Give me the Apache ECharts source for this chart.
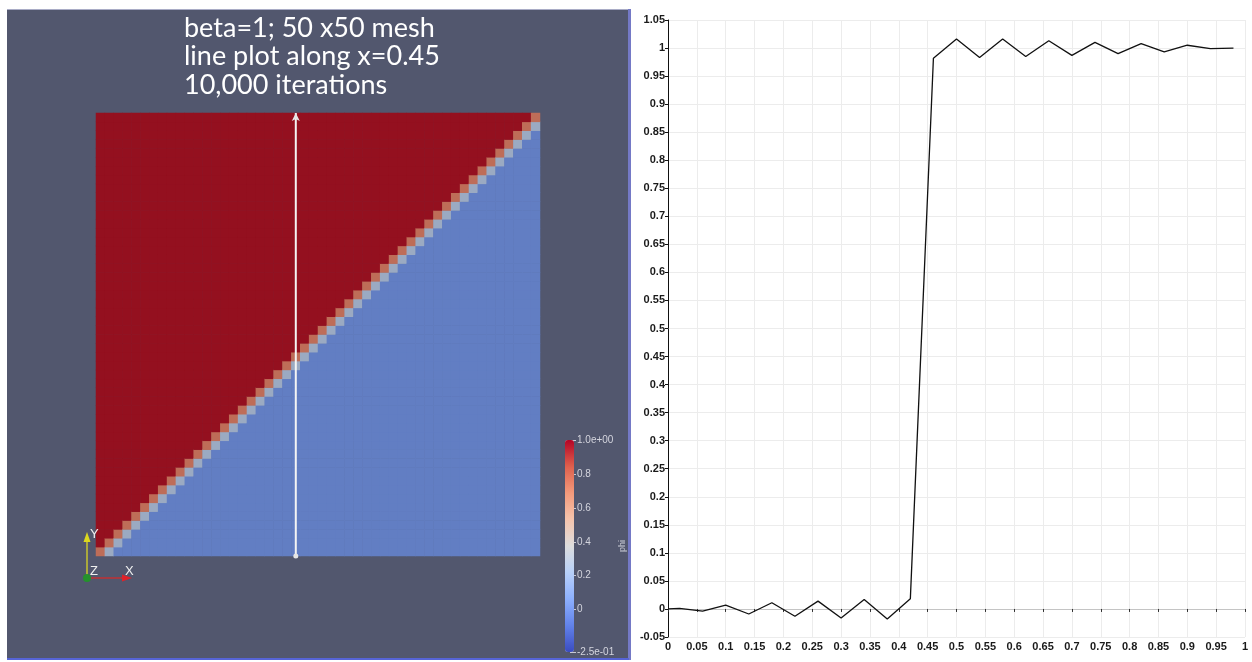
<!DOCTYPE html>
<html><head><meta charset="utf-8">
<script src="https://cdn.jsdelivr.net/npm/echarts@6/dist/echarts.min.js"></script>
<style>html,body{margin:0;padding:0;background:#fff}#c{width:1252px;height:662px}</style>
</head><body><div id="c"></div>
<script>
// ---------- data ----------
const titleLines = ['beta=1; 50 x50 mesh', 'line plot along x=0.45', '10,000 iterations'];
const meshSize = 50;                 // 50 x 50 cells
const phiAbove = 1.0;                // value above the diagonal interface
const phiBelow = 0.0;                // value below the diagonal interface
const interfaceOffsets = [-1, 0];    // cell offset (row - col) across the interface
const interfaceValues = [0.26, 0.74];
const probeX = 0.45;
const phiMin = -0.25, phiMax = 1.0;
const colorbarTicks = [-0.25, 0, 0.2, 0.4, 0.6, 0.8, 1];
const colorbarTickLabels = ['-2.5e-01', '0', '0.2', '0.4', '0.6', '0.8', '1.0e+00'];
const axisLabelsTriad = ['X', 'Y', 'Z'];
// line plot along x = 0.45 (position along y, phi)
const lineX = [0, 0.02, 0.06, 0.10, 0.14, 0.18, 0.22, 0.26, 0.30, 0.34, 0.38, 0.42, 0.46,
  0.50, 0.54, 0.58, 0.62, 0.66, 0.70, 0.74, 0.78, 0.82, 0.86, 0.90, 0.94, 0.98];
const lineY = [0.000, 0.001, -0.004, 0.007, -0.009, 0.011, -0.013, 0.014, -0.016, 0.017, -0.018, 0.018, 0.982,
  1.016, 0.983, 1.016, 0.985, 1.013, 0.987, 1.010, 0.990, 1.008, 0.993, 1.005, 0.999, 1.000];

// ParaView "Cool to Warm" colour map
const coolWarm = ['#3b4cc0', '#6282ea', '#8db0fe', '#b8d0f9', '#dddddd', '#f5c4ad', '#f49a7b', '#de604d', '#b40426'];
// same map as it appears shaded in the render
const coolWarmShaded = ['#303e9a', '#4e68b8', '#6f8ccb', '#93a7c8', '#b3b3b3', '#c6a08e', '#c47c64', '#b24f40', '#94101f'];

// ---------- build tables ----------
const cats = [];
for (let i = 0; i < meshSize; i++) cats.push(String(i));
const heat = [];
for (let i = 0; i < meshSize; i++) {
  for (let j = 0; j < meshSize; j++) {
    const d = j - i;
    const k = interfaceOffsets.indexOf(d);
    const v = k >= 0 ? interfaceValues[k] : (d > 0 ? phiAbove : phiBelow);
    heat.push([i, j, v]);
  }
}
const lineData = lineX.map((x, i) => [x, lineY[i]]);

const chart = echarts.init(document.getElementById('c'), null, {renderer: 'canvas'});
const labelFont = {fontFamily: 'Liberation Sans', fontSize: 11, fontWeight: 'bold', color: '#1a1a1a'};

chart.setOption({
  animation: false,
  backgroundColor: '#ffffff',
  title: {
    text: titleLines.join('\n'), left: 179, top: 9,
    textStyle: {color: '#ffffff', fontSize: 27, fontWeight: 'normal', fontFamily: 'Lato', lineHeight: 28.5}
  },
  grid: [
    {left: 96, top: 113, width: 444, height: 443},
    {left: 96, top: 113, width: 444, height: 443},
    {left: 668, top: 20, right: 7, bottom: 25},
    {left: 570, top: 440, width: 4, height: 212}
  ],
  xAxis: [
    {gridIndex: 0, type: 'category', data: cats, show: false},
    {gridIndex: 1, type: 'value', min: 0, max: 1, show: false},
    {gridIndex: 2, type: 'value', min: 0, max: 1, interval: 0.05,
      axisLine: {show: true, lineStyle: {color: '#c4c4c4', width: 1}},
      axisTick: {show: true, length: 3, lineStyle: {color: '#333'}},
      axisLabel: Object.assign({margin: 4}, labelFont),
      splitLine: {show: true, lineStyle: {color: '#ececec', width: 1}}},
    {gridIndex: 3, type: 'value', show: false}
  ],
  yAxis: [
    {gridIndex: 0, type: 'category', data: cats, show: false},
    {gridIndex: 1, type: 'value', min: 0, max: 1, show: false},
    {gridIndex: 2, type: 'value', min: -0.05, max: 1.05, interval: 0.05,
      axisLine: {show: true, lineStyle: {color: '#111', width: 1}},
      axisTick: {show: true, length: 3, lineStyle: {color: '#111'}},
      axisLabel: Object.assign({margin: 3}, labelFont),
      splitLine: {show: true, lineStyle: {color: '#ececec', width: 1}}},
    {gridIndex: 3, type: 'value', min: phiMin, max: phiMax, position: 'right',
      axisLine: {show: false},
      axisTick: {show: true, length: 6, customValues: colorbarTicks, lineStyle: {color: '#c8c9d4'}},
      axisLabel: {customValues: colorbarTicks, color: '#d4d5de', fontSize: 10, margin: 3, fontFamily: 'Liberation Sans',
        formatter: v => colorbarTickLabels[colorbarTicks.indexOf(v)]},
      splitLine: {show: false},
      name: 'phi', nameLocation: 'middle', nameGap: 43, nameRotate: 90,
      nameTextStyle: {color: '#c8c9d4', fontSize: 9, fontFamily: 'Liberation Sans'}}
  ],
  visualMap: [
    {type: 'continuous', show: false, seriesIndex: 0, min: phiMin, max: phiMax, inRange: {color: coolWarmShaded}},
    {type: 'continuous', show: true, seriesIndex: 3, min: phiMin, max: phiMax, calculable: false,
      left: 565, top: 440, itemWidth: 9, itemHeight: 212, padding: 0, text: null,
      inRange: {color: coolWarm}}
  ],
  series: [
    {type: 'heatmap', xAxisIndex: 0, yAxisIndex: 0, data: heat, itemStyle: {borderWidth: 0}, emphasis: {disabled: true}},
    {type: 'line', xAxisIndex: 1, yAxisIndex: 1, z: 5,
      data: [{value: [probeX, 0], symbol: 'circle', symbolSize: 5}, {value: [probeX, 1], symbol: 'arrow', symbolSize: [6, 8]}],
      lineStyle: {color: '#f4f4f4', width: 2}, itemStyle: {color: '#e6e6e6'}},
    {type: 'line', xAxisIndex: 2, yAxisIndex: 2, data: lineData, showSymbol: false,
      lineStyle: {color: '#111111', width: 1.3}},
    {type: 'scatter', xAxisIndex: 3, yAxisIndex: 3, data: []}
  ],
  graphic: {elements: [
    {type: 'rect', shape: {x: 7, y: 9, width: 622, height: 651}, style: {fill: '#52576e'}, z: 0, silent: true},
    {type: 'line', shape: {x1: 7, y1: 9.5, x2: 629, y2: 9.5}, style: {stroke: '#a9acc6', lineWidth: 1}, z: 0},
    {type: 'line', shape: {x1: 629.5, y1: 9, x2: 629.5, y2: 660}, style: {stroke: '#7479c6', lineWidth: 3}, z: 0},
    {type: 'line', shape: {x1: 7, y1: 659, x2: 629, y2: 659}, style: {stroke: '#5664d6', lineWidth: 2}, z: 0},
    // orientation triad
    {type: 'line', shape: {x1: 87, y1: 578, x2: 87, y2: 541}, style: {stroke: '#c9c52e', lineWidth: 1.5}, z: 100},
    {type: 'polygon', shape: {points: [[83.5, 542], [90.5, 542], [87, 532]]}, style: {fill: '#dcd81e'}, z: 100},
    {type: 'line', shape: {x1: 87, y1: 578, x2: 123, y2: 578}, style: {stroke: '#c03034', lineWidth: 1.5}, z: 100},
    {type: 'polygon', shape: {points: [[122, 574.5], [122, 581.5], [132, 578]]}, style: {fill: '#e0222a'}, z: 100},
    {type: 'circle', shape: {cx: 87, cy: 578, r: 4}, style: {fill: '#24922c'}, z: 100},
    {type: 'text', x: 90, y: 528, style: {text: axisLabelsTriad[1], fill: '#f0f0f0', fontSize: 13, fontFamily: 'Liberation Sans'}, z: 100},
    {type: 'text', x: 90, y: 565, style: {text: axisLabelsTriad[2], fill: '#f0f0f0', fontSize: 13, fontFamily: 'Liberation Sans'}, z: 100},
    {type: 'text', x: 125, y: 565, style: {text: axisLabelsTriad[0], fill: '#f0f0f0', fontSize: 13, fontFamily: 'Liberation Sans'}, z: 100}
  ]}
});
</script></body></html>
